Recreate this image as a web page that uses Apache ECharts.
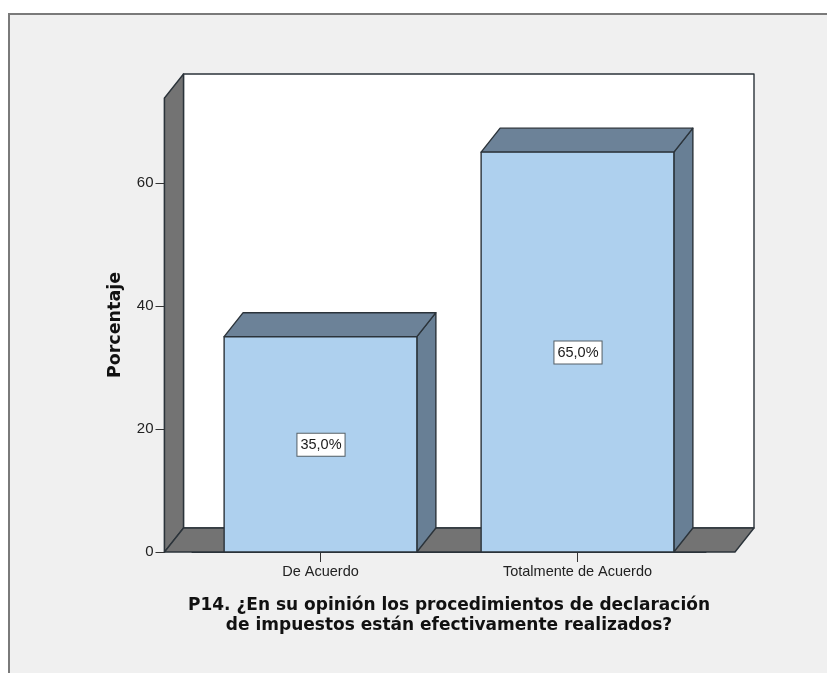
<!DOCTYPE html>
<html>
<head>
<meta charset="utf-8">
<style>html,body{margin:0;padding:0;background:#fff}#c{width:827px;height:673px}</style>
<script src="https://cdn.jsdelivr.net/npm/echarts@6/dist/echarts.min.js"></script>
</head>
<body>
<div id="c"></div>
<script>
const categories = ['De Acuerdo', 'Totalmente de Acuerdo'];
const percentages = [35, 65];
const yTicksInterval = 20;
const yMax = 73.8;
const xTitle = 'P14. ¿En su opinión los procedimientos de declaración\nde impuestos están efectivamente realizados?';
const yTitle = 'Porcentaje';

const DX = 19, DY = -24, PAD_L = 27.5, PAD_R = 29, EDGE = '#2b333a';
const FONT = '"Liberation Sans", Arial, sans-serif', BOLD = '"DejaVu Sans", sans-serif';
const chart = echarts.init(document.getElementById('c'), null, {renderer: 'canvas'});
const poly = (pts, fill, z) => ({type: 'polygon', shape: {points: pts}, z2: z || 0,
  style: {fill, stroke: EDGE, lineWidth: 1.4, lineJoin: 'round'}});

function renderWalls(params, api) {
  const c = params.coordSys;
  const l = c.x - PAD_L, r = c.x + c.width + PAD_R, t = c.y, b = c.y + c.height;
  return {type: 'group', children: [
    poly([[l+DX,t+DY],[r+DX,t+DY],[r+DX,b+DY],[l+DX,b+DY]], '#ffffff'),
    poly([[l,t],[l+DX,t+DY],[l+DX,b+DY],[l,b]], '#737373'),
    poly([[l,b],[l+DX,b+DY],[r+DX,b+DY],[r,b]], '#737373')
  ]};
}
function renderBar(params, api) {
  const i = api.value(0), v = api.value(1);
  const top = api.coord([i, v]), base = api.coord([i, 0]);
  const w = api.size([1, 0])[0] * 0.75;
  const l = top[0] - w/2, r = top[0] + w/2, t = top[1], b = base[1];
  const txt = v.toFixed(1).replace('.', ',') + '%';
  return {type: 'group', children: [
    poly([[r,b],[r+DX,b+DY],[r+DX,t+DY],[r,t]], '#687f95'),
    poly([[l,t],[l+DX,t+DY],[r+DX,t+DY],[r,t]], '#6c8298'),
    poly([[l,t],[r,t],[r,b],[l,b]], '#aed0ee'),
    {type: 'text', z2: 5, x: top[0] + 0.5, y: (t+b)/2 + 0.5, style: {
      text: txt, fill: '#1a1a1a', font: '14.5px ' + FONT, align: 'center', verticalAlign: 'middle',
      backgroundColor: '#ffffff', borderColor: '#555f66', borderWidth: 1, padding: [4, 3, 3, 3]
    }}
  ]};
}
chart.setOption({
  animation: false,
  backgroundColor: '#ffffff',
  graphic: [{type: 'rect', z: -1, shape: {x: 9, y: 14, width: 840, height: 680},
    style: {fill: '#f0f0f0', stroke: '#7a7a7a', lineWidth: 2}}],
  grid: {left: 192, width: 514, top: 98, height: 454},
  xAxis: {
    type: 'category', data: categories,
    axisTick: {show: true, alignWithLabel: true, length: 10, lineStyle: {color: '#333', width: 1}},
    axisLine: {show: true, lineStyle: {color: EDGE, width: 1}},
    axisLabel: {color: '#222', fontFamily: FONT, fontSize: 14.5, margin: 12, interval: 0},
    name: xTitle, nameLocation: 'middle', nameGap: 44,
    nameTextStyle: {color: '#111', fontFamily: BOLD, fontWeight: 'bold', fontSize: 17, lineHeight: 20}
  },
  yAxis: {
    type: 'value', min: 0, max: yMax, interval: yTicksInterval, offset: PAD_L,
    splitLine: {show: false},
    axisLine: {show: true, lineStyle: {color: EDGE, width: 1.4}},
    axisTick: {show: true, length: 9, lineStyle: {color: '#333', width: 1}},
    axisLabel: {color: '#222', fontFamily: FONT, fontSize: 15, margin: 11, showMaxLabel: false},
    name: yTitle, nameLocation: 'middle', nameGap: 40,
    nameTextStyle: {color: '#111', fontFamily: BOLD, fontWeight: 'bold', fontSize: 17.5}
  },
  series: [
    {type: 'custom', z: 1, renderItem: renderWalls, data: [[0, 0]], silent: true},
    {type: 'custom', z: 2, renderItem: renderBar,
     encode: {x: 0, y: 1},
     data: percentages.map((v, i) => [i, v])}
  ]
});
</script>
</body>
</html>
